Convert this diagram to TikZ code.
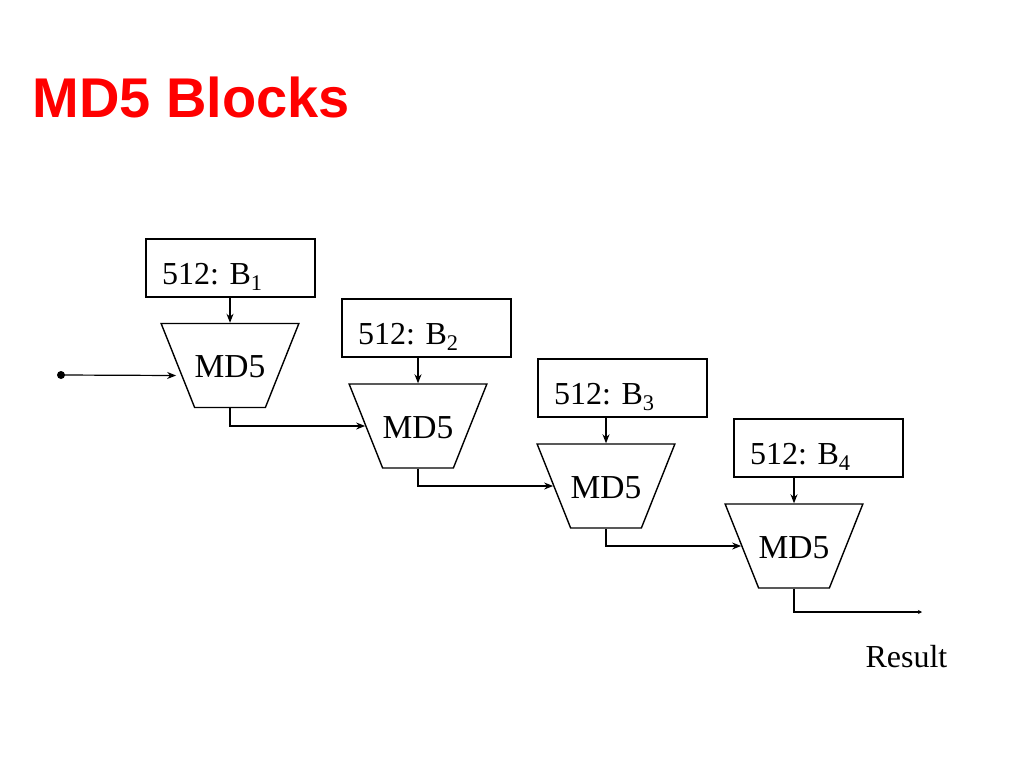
\documentclass[tikz,border=0pt]{standalone}
\usepackage{fontspec}
\setmainfont{Liberation Serif}
\newfontfamily\titlefont{Liberation Sans}
\usetikzlibrary{shapes.geometric,arrows.meta}
\frenchspacing
\begin{document}
\begin{tikzpicture}[x=1pt,y=-1pt,
  every node/.style={font=\fontsize{32}{36}\selectfont},
  blockbox/.style={draw,line width=1.3pt,minimum width=169pt,minimum height=58pt,
    inner xsep=16pt,inner ysep=0pt,text width=137pt,align=left,text height=32pt,text depth=0pt},
  md/.style={draw,line width=1.4pt,trapezium,trapezium angle=111.74,
    trapezium stretches body,minimum width=136pt,inner sep=0pt,
    text height=54pt,text depth=30pt,font=\fontsize{33.5}{36}\selectfont},
  arr/.style={line width=1.2pt,-{Stealth[length=9pt,width=7pt]}},
  lastarr/.style={line width=1.2pt,-{Stealth[length=4pt,width=4pt]}}]
\useasboundingbox (0,0) rectangle (1024,768);
\node[anchor=base west,text=red,font=\titlefont\bfseries\fontsize{56}{60}\selectfont] (title) at (29,117) {MD5 Blocks};
% blocks
\node[blockbox] (b1) at (230.5,268) {512: B\textsubscript{1}};
\node[blockbox] (b2) at (426.5,328) {512: B\textsubscript{2}};
\node[blockbox] (b3) at (622.5,388) {512: B\textsubscript{3}};
\node[blockbox] (b4) at (818.5,448) {512: B\textsubscript{4}};
% md5 units
\node[md] (t1) at (230,365.5) {MD5};
\node[md] (t2) at (418,426) {MD5};
\node[md] (t3) at (606,486) {MD5};
\node[md] (t4) at (794,546) {MD5};
% input
\node[circle,fill,inner sep=0pt,minimum size=8pt] (in) at (61,375) {};
\draw[arr] (in.center) -- ([yshift=-10pt,xshift=-1pt]t1.west);
% block inputs
\draw[arr] (t1.north |- b1.south) -- (t1.north);
\draw[arr] (t2.north |- b2.south) -- (t2.north);
\draw[arr] (t3.north |- b3.south) -- (t3.north);
\draw[arr] (t4.north |- b4.south) -- (t4.north);
% chaining
\draw[arr] (t1.south) |- (t2.west);
\draw[arr] (t2.south) |- (t3.west);
\draw[arr] (t3.south) |- (t4.west);
\coordinate (res) at (922,612);
\draw[lastarr] (t4.south) |- (res);
\node[anchor=base west] (result) at (862,667) {Result};
\end{tikzpicture}
\end{document}
